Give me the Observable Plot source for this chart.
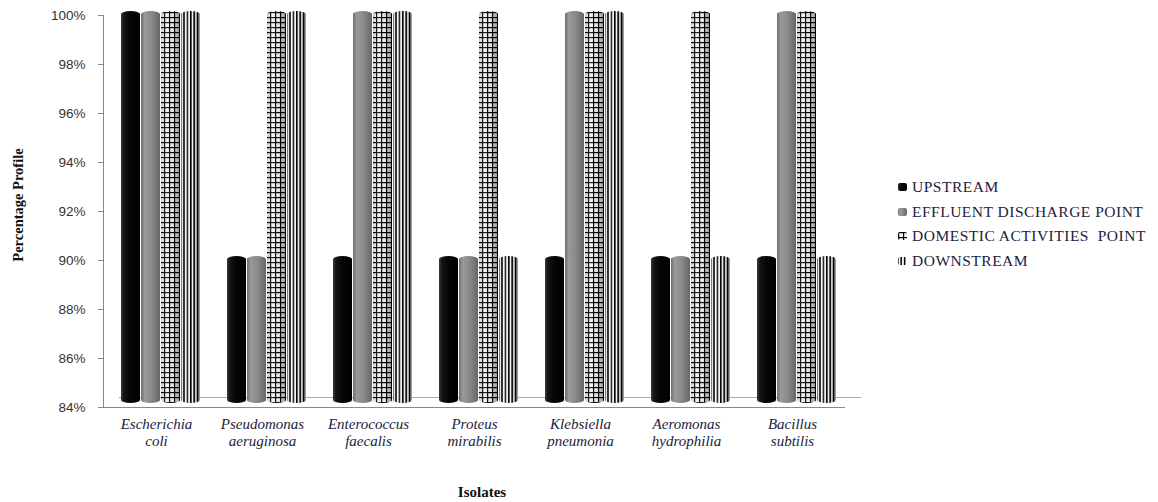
<!DOCTYPE html>
<html><head><meta charset="utf-8">
<script src="https://cdn.jsdelivr.net/npm/d3@7"></script>
<script src="https://cdn.jsdelivr.net/npm/@observablehq/plot@0.6"></script>
<style>
body{margin:0;background:#fff;}
#wrap{position:relative;width:1158px;height:502px;overflow:hidden;background:#fff;}
#chart{position:absolute;left:0;top:0;}
.ytitle{position:absolute;left:18px;top:205px;transform:translate(-50%,-50%) rotate(-90deg);font-family:"Liberation Serif","Times New Roman",serif;font-weight:bold;font-size:14.5px;white-space:nowrap;color:#111;}
.xtitle{position:absolute;left:482px;top:492px;transform:translate(-50%,-50%);font-family:"Liberation Serif","Times New Roman",serif;font-weight:bold;font-size:15px;color:#111;white-space:nowrap;}
#legend{position:absolute;left:897px;top:175px;font-family:"Liberation Serif","Times New Roman",serif;font-size:15.5px;letter-spacing:0.5px;color:#1c1c3c;}
.item{display:flex;align-items:center;height:24.5px;white-space:pre;font-family:"Liberation Serif","Times New Roman",serif;}
.item svg{margin-right:3px;}
#chart g[aria-label="fx-axis tick label"], #chart g[aria-label="fx-axis tick label"] text{font-family:"Liberation Serif","Times New Roman",serif;font-style:italic;font-size:15px;}
</style>
</head><body>
<div id="wrap">
  <div id="chart"></div>
  <div class="ytitle">Percentage Profile</div>
  <div class="xtitle">Isolates</div>
  <div id="legend"></div>
</div>
<script>
const isolates = ["Escherichia\ncoli", "Pseudomonas\naeruginosa", "Enterococcus\nfaecalis", "Proteus\nmirabilis", "Klebsiella\npneumonia", "Aeromonas\nhydrophilia", "Bacillus\nsubtilis"];
const series = ["UPSTREAM", "EFFLUENT DISCHARGE POINT", "DOMESTIC ACTIVITIES  POINT", "DOWNSTREAM"];
const upstream   = [100, 90, 90, 90, 90, 90, 90];
const effluent   = [100, 90, 100, 90, 100, 90, 100];
const domestic   = [100, 100, 100, 100, 100, 100, 100];
const downstream = [100, 100, 100, 90, 100, 90, 90];
const yTicks = [84, 86, 88, 90, 92, 94, 96, 98, 100];
const fills = ["url(#g-up)", "url(#g-eff)", "url(#pat-dom)", "url(#pat-down)"];

const values = [upstream, effluent, domestic, downstream];
const data = [];
isolates.forEach((iso, i) => series.forEach((s, j) => data.push({isolate: iso, series: s, value: values[j][i]})));
const patterned = data.filter(d => d.series === series[2] || d.series === series[3]);

const chart = Plot.plot({
  width: 870, height: 502,
  marginLeft: 100, marginRight: 23, marginTop: 15, marginBottom: 95,
  style: {fontFamily: "Liberation Sans", fontSize: "13.5px", color: "#333", background: "transparent"},
  fx: {domain: isolates, padding: 0, paddingInner: 0, paddingOuter: 0, label: null},
  x: {domain: series, paddingInner: 0.03, paddingOuter: 0.6, align: 0.68, axis: null},
  y: {domain: [yTicks[0], yTicks[yTicks.length - 1]], label: null},
  color: {domain: series, range: fills},
  marks: [
    Plot.axisY({ticks: yTicks, tickFormat: d => d + "%", tickSize: 5, tickPadding: 13, stroke: "#888", fill: "#333", label: null}),
    Plot.axisFx({anchor: "bottom", tickSize: 0, tickPadding: 10, fontFamily: "Liberation Serif", fontStyle: "italic", fontSize: 15, fill: "#1c1c3c", label: null, lineHeight: 1.1}),
    Plot.frame({anchor: "left", facetAnchor: "left", stroke: "#888"}),
    Plot.ruleY([yTicks[0]], {stroke: "#aaa", dx: 16, dy: -10}),
    Plot.ruleY([yTicks[0]], {stroke: "#888"}),
    Plot.barY(data, {fx: "isolate", x: "series", y1: yTicks[0], y2: "value", fill: "series", rx: 10, ry: 3, dy: -4}),
    Plot.barY(patterned, {fx: "isolate", x: "series", y1: yTicks[0], y2: "value", fill: "url(#shade)", rx: 10, ry: 3, dy: -4})
  ]
});

const defs = d3.select(chart).insert("defs", ":first-child");
function lg(id, stops) {
  const g = defs.append("linearGradient").attr("id", id).attr("x1", 0).attr("x2", 1).attr("y1", 0).attr("y2", 0);
  stops.forEach(([o, c, op]) => g.append("stop").attr("offset", o).attr("stop-color", c).attr("stop-opacity", op == null ? 1 : op));
}
lg("g-up", [[0, "#3a3a3a"], [0.15, "#151515"], [0.5, "#050505"], [1, "#000"]]);
lg("g-eff", [[0, "#6e6e6e"], [0.2, "#9a9a9a"], [0.55, "#8a8a8a"], [1, "#666"]]);
lg("shade", [[0, "#000", 0.15], [0.3, "#fff", 0.15], [0.6, "#000", 0.05], [1, "#000", 0.4]]);
const p1 = defs.append("pattern").attr("id", "pat-dom").attr("patternUnits", "userSpaceOnUse").attr("width", 5).attr("height", 5);
p1.append("rect").attr("width", 5).attr("height", 5).attr("fill", "#f4f4f4");
p1.append("rect").attr("x", 1).attr("width", 1.2).attr("height", 5).attr("fill", "#000");
p1.append("rect").attr("y", 1).attr("width", 5).attr("height", 1.2).attr("fill", "#000");
const p2 = defs.append("pattern").attr("id", "pat-down").attr("patternUnits", "userSpaceOnUse").attr("width", 3.4).attr("height", 5);
p2.append("rect").attr("width", 3.4).attr("height", 5).attr("fill", "#fff");
p2.append("rect").attr("width", 1.6).attr("height", 5).attr("fill", "#000");

document.getElementById("chart").appendChild(chart);

const legend = d3.select("#legend");
series.forEach((s, j) => {
  const item = legend.append("div").attr("class", "item");
  const sw = item.append("svg").attr("width", 12).attr("height", 10);
  sw.append("rect").attr("x", 1).attr("y", 1).attr("width", 9).attr("height", 8).attr("rx", 2).attr("fill", fills[j]);
  item.append("span").text(s);
});
</script>
</body></html>
